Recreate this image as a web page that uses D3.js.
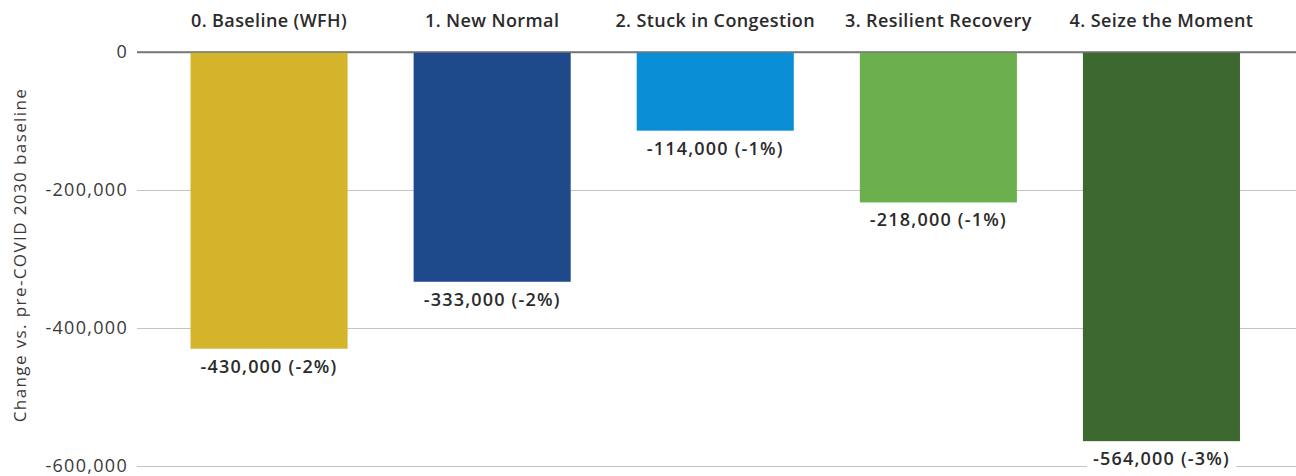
<!DOCTYPE html>
<html>
<head>
<meta charset="utf-8">
<script src="https://cdn.jsdelivr.net/npm/d3@7"></script>
<style>
  html, body { margin: 0; padding: 0; background: #fff; }
  svg { display: block; }
</style>
</head>
<body>
<svg id="chart" width="1296" height="476"></svg>
<script>
// Scenario names and change in jobs vs. the pre-COVID 2030 baseline
const scenarios = ["0. Baseline (WFH)", "1. New Normal", "2. Stuck in Congestion", "3. Resilient Recovery", "4. Seize the Moment"];
const changes = [-430000, -333000, -114000, -218000, -564000];
const percents = ["-2%", "-2%", "-1%", "-1%", "-3%"];
const colors = ["#D3B42B", "#1E4A8C", "#0A8ED6", "#6BB04D", "#3D6930"];
const yTicks = [0, -200000, -400000, -600000];

const svg = d3.select("#chart");
const font = "'Open Sans', 'DejaVu Sans', sans-serif";

const x = d3.scaleBand()
  .domain(scenarios)
  .range([157.5, 1273])
  .paddingInner(0.296)
  .paddingOuter(0.148);

const y = d3.scaleLinear()
  .domain([0, -600000])
  .range([52, 466]);

const fmt = v => d3.format(",")(v).replace("−", "-");

// Horizontal gridlines and tick labels
const yAxis = d3.axisLeft(y)
  .tickValues(yTicks)
  .tickSize(-(1296 - 137))
  .tickPadding(9)
  .tickFormat(d => d === 0 ? "0" : fmt(d));

const gAxis = svg.append("g")
  .attr("transform", "translate(137,0)")
  .call(yAxis);
gAxis.select(".domain").remove();
gAxis.selectAll(".tick line")
  .attr("stroke", d => d === 0 ? "#777" : "#c4c4c4")
  .attr("stroke-width", d => d === 0 ? 1.5 : 1.2);
gAxis.selectAll(".tick text")
  .attr("fill", "#3a3a3a")
  .style("font-family", font)
  .style("font-size", "18px")
  .style("letter-spacing", "1.3px");

// Axis title
svg.append("text")
  .attr("transform", "translate(26,255) rotate(-90)")
  .attr("text-anchor", "middle")
  .attr("fill", "#3a3a3a")
  .style("font-family", font)
  .style("font-size", "17px")
  .style("letter-spacing", "1.4px")
  .text("Change vs. pre-COVID 2030 baseline");

// Bars
svg.append("g")
  .selectAll("rect")
  .data(scenarios)
  .join("rect")
  .attr("x", d => x(d))
  .attr("width", x.bandwidth())
  .attr("y", y(0))
  .attr("height", (d, i) => y(changes[i]) - y(0))
  .attr("fill", (d, i) => colors[i]);

// Re-draw zero line above bars
svg.append("line")
  .attr("x1", 137).attr("x2", 1296)
  .attr("y1", y(0)).attr("y2", y(0))
  .attr("stroke", "#777").attr("stroke-width", 1.5);

// Scenario titles above each bar
svg.append("g")
  .selectAll("text")
  .data(scenarios)
  .join("text")
  .attr("x", d => x(d) + x.bandwidth() / 2)
  .attr("y", 27)
  .attr("text-anchor", "middle")
  .attr("fill", "#2b2b2b")
  .style("font-family", font)
  .style("font-size", "18px")
  .style("font-weight", 600)
  .style("letter-spacing", "0.4px")
  .text(d => d);

// Value labels below bar ends, on a white backing
const labels = svg.append("g")
  .selectAll("g")
  .data(scenarios)
  .join("g")
  .attr("transform", (d, i) => `translate(${x(d) + x.bandwidth() / 2},${y(changes[i]) + 24})`);

labels.append("text")
  .attr("text-anchor", "middle")
  .attr("fill", "#2b2b2b")
  .style("font-family", font)
  .style("font-size", "18px")
  .style("font-weight", 600)
  .style("letter-spacing", "1.2px")
  .text((d, i) => `${fmt(changes[i])} (${percents[i]})`);

labels.each(function() {
  const g = d3.select(this);
  const bb = g.select("text").node().getBBox();
  g.insert("rect", "text")
    .attr("x", bb.x - 6)
    .attr("y", bb.y - 2)
    .attr("width", bb.width + 12)
    .attr("height", bb.height + 4)
    .attr("fill", "#fff");
});
</script>
</body>
</html>
